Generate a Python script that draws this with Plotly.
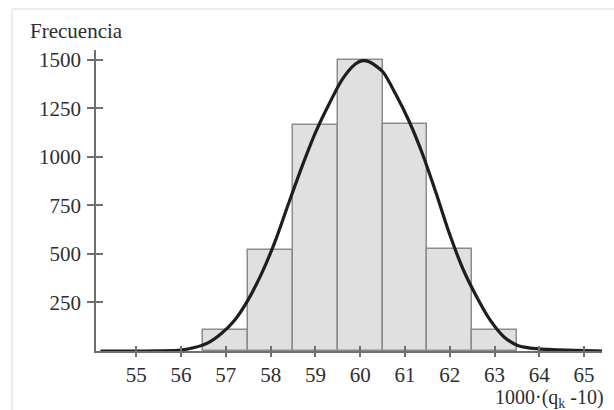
import plotly.graph_objects as go

# Histogram data
bin_centers = [57, 58, 59, 60, 61, 62, 63]
frequencies = [110, 520, 1165, 1500, 1170, 525, 110]

# Fitted curve, points
curve_x = [54.2, 55.0, 55.5, 56.0, 56.3, 56.6, 56.9, 57.2, 57.5, 57.8, 58.1, 58.4,
           58.7, 59.0, 59.3, 59.6, 59.9, 60.05, 60.2, 60.5, 60.8, 61.1, 61.4, 61.7,
           62.0, 62.3, 62.6, 62.9, 63.2, 63.5, 63.8, 64.2, 64.6, 65.0, 65.4]
curve_y = [0, 0, 1, 5, 18, 42, 90, 160, 265, 400, 565, 760,
           950, 1125, 1270, 1400, 1480, 1496, 1490, 1440, 1320, 1180, 1010, 810,
           600, 420, 280, 160, 75, 30, 15, 8, 4, 2, 0]

x_ticks = [55, 56, 57, 58, 59, 60, 61, 62, 63, 64, 65]
y_ticks = [250, 500, 750, 1000, 1250, 1500]

FONT = "Liberation Serif"
AX = "#6f6f6f"
TXT = "#2e2e2e"

fig = go.Figure()
fig.add_trace(go.Bar(
    x=bin_centers, y=frequencies, width=1.0,
    marker=dict(color="#e0e0e0", line=dict(color="#8c8c8c", width=1.5)),
    showlegend=False, hoverinfo="skip"))
fig.add_trace(go.Scatter(
    x=curve_x, y=curve_y, mode="lines",
    line=dict(color="#1e1e1e", width=3.2, shape="spline", smoothing=0.8),
    showlegend=False, hoverinfo="skip", cliponaxis=False))
# invisible trace to carry the inner half of the crossing ticks
fig.add_trace(go.Scatter(x=[60], y=[0], xaxis="x2", yaxis="y2", mode="markers",
                         marker=dict(opacity=0), showlegend=False, hoverinfo="skip"))

common = dict(showgrid=False, zeroline=False, linecolor=AX, linewidth=1.5,
              tickcolor=AX, tickwidth=1.5,
              tickfont=dict(family=FONT, size=21, color=TXT))

fig.update_layout(
    width=614, height=410,
    margin=dict(l=96, r=12, t=50, b=59),
    paper_bgcolor="white", plot_bgcolor="white",
    bargap=0,
    xaxis=dict(range=[54.1, 65.4], tickvals=x_ticks, ticks="outside", ticklen=4,
               showline=True, **common),
    yaxis=dict(range=[0, 1551], tickvals=y_ticks, ticks="outside", ticklen=7,
               ticklabelstandoff=2, showline=True, **common),
    xaxis2=dict(range=[54.1, 65.4], tickvals=x_ticks, ticks="inside", ticklen=5,
                overlaying="x", showticklabels=False, showline=False,
                showgrid=False, zeroline=False, tickcolor=AX, tickwidth=1.5),
    yaxis2=dict(range=[0, 1551], tickvals=y_ticks, ticks="inside", ticklen=7,
                overlaying="y", showticklabels=False, showline=False,
                showgrid=False, zeroline=False, tickcolor=AX, tickwidth=1.5),
    annotations=[
        dict(text="Frecuencia", xref="paper", yref="paper", x=-0.134, y=1.015,
             xanchor="left", yanchor="bottom", showarrow=False,
             font=dict(family=FONT, size=21, color=TXT)),
        dict(text="1000·(q<sub>k</sub> -10)", xref="paper", yref="paper",
             x=1.008, y=-0.158, xanchor="right", yanchor="middle", showarrow=False,
             font=dict(family=FONT, size=20, color=TXT)),
    ],
    shapes=[
        dict(type="line", xref="paper", yref="paper", x0=-0.166, x1=1.05,
             y0=1.136, y1=1.136, line=dict(color="#ececec", width=2)),
        dict(type="line", xref="paper", yref="paper", x0=-0.166, x1=-0.166,
             y0=1.136, y1=-0.2, line=dict(color="#ececec", width=2)),
    ],
)

fig.write_html("out.html", config={"displayModeBar": False},
               post_script="document.body.style.margin='0';document.documentElement.style.margin='0';")
